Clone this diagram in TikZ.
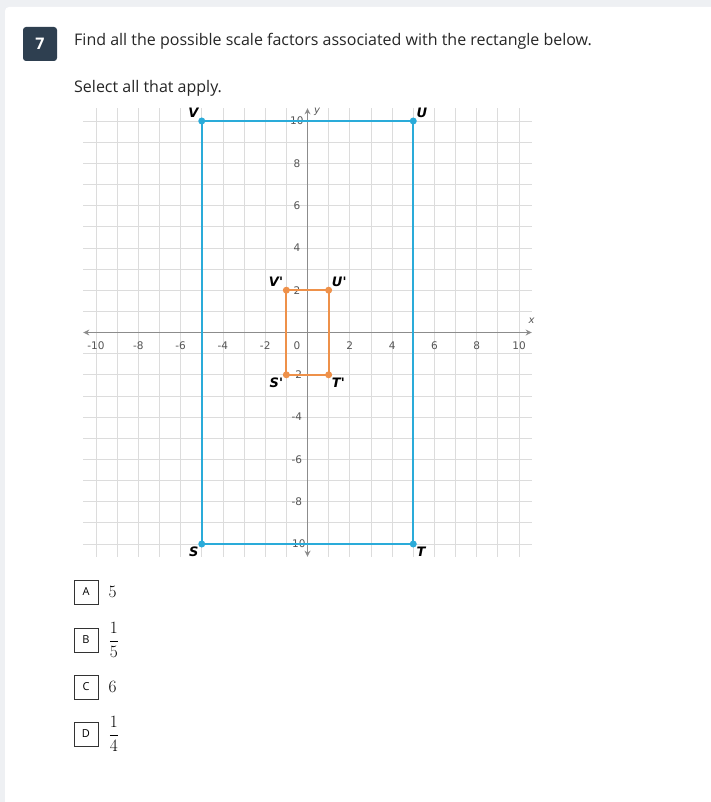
\documentclass[tikz,border=0pt]{standalone}
\usepackage{fontspec}
\usepackage{amsmath}
\setmainfont{Open Sans}
\newfontfamily\axisfont{DejaVu Sans}
\usetikzlibrary{positioning,arrows.meta}
\definecolor{pagegray}{HTML}{EEF0F3}
\definecolor{badgeblue}{HTML}{2E3F50}
\definecolor{bigblue}{HTML}{2AABD9}
\definecolor{smallorange}{HTML}{EE914A}
\definecolor{gridgray}{HTML}{DCDCDC}
\definecolor{axisgray}{HTML}{8C8C8C}
\definecolor{ticktext}{HTML}{555555}

\begin{document}
\begin{tikzpicture}[x=1pt, y=-1pt,
    badge/.style={rounded corners=3pt, fill=badgeblue, text=white, minimum size=34pt, inner sep=0pt, font=\fontsize{16}{16}\selectfont\bfseries},
    prompt/.style={anchor=base west, inner sep=0pt, text=black!85, font=\fontsize{16}{19}\selectfont},
    gridline/.style={gridgray, line width=0.8pt},
    axisline/.style={axisgray, line width=1.4pt, {Stealth[length=6pt,width=6pt]}-{Stealth[length=6pt,width=6pt]}},
    ticklabel/.style={text=ticktext, inner sep=0pt, font=\axisfont\fontsize{10.5}{10.5}\selectfont},
    bigdot/.style={circle, fill=bigblue, minimum size=7pt, inner sep=0pt},
    smalldot/.style={circle, fill=smallorange, minimum size=7pt, inner sep=0pt},
    bigside/.style={bigblue, line width=2pt},
    smallside/.style={smallorange, line width=2pt},
    vertex/.style={font=\axisfont\fontsize{13}{13}\selectfont\bfseries\itshape, text=black, inner sep=0.5pt},
    choicebox/.style={draw=black!80, line width=0.8pt, minimum size=24pt, inner sep=0pt, font=\fontsize{11}{11}\selectfont},
    choice/.style={anchor=west, inner sep=0pt, font=\fontsize{19}{21}\selectfont}
]
\useasboundingbox (0,0) rectangle (711,802);
\clip (0,0) rectangle (711,802);
\fill[pagegray] (0,0) rectangle (711,802);
\fill[white, rounded corners=4pt] (5,7) rectangle (730,830);

% question header
\node[badge] (num) at (40,44) {7};
\node[prompt] (question) at (74,46) {Find all the possible scale factors associated with the rectangle below.};
\node[prompt] (hint) at (74,93) {Select all that apply.};

% coordinate plane
\begin{scope}[shift={(307.5,332.5)}, x=21.15pt, y=21.15pt]
\draw[gridline, step=1] (-10.6,-10.6) grid (10.6,10.6);
\coordinate (xl) at (-10.6,0);
\coordinate (xr) at (10.6,0);
\coordinate (yb) at (0,-10.6);
\coordinate (yt) at (0,10.6);
\draw[axisline] (xl) -- (xr);
\draw[axisline] (yb) -- (yt);
\node[ticklabel, font=\axisfont\itshape\fontsize{10}{10}\selectfont] (xname) at (10.6,0.55) {x};
\node[ticklabel, font=\axisfont\itshape\fontsize{10}{10}\selectfont] (yname) at (0.45,10.45) {y};
\foreach \t in {-10,-8,-6,-4,-2,2,4,6,8,10}{
  \node[ticklabel] (xt\t) at (\t,-0.6) {\t};
  \node[ticklabel] (yt\t) at (-0.5,\t) {\t};
}
\node[ticklabel] (zero) at (-0.5,-0.6) {0};

% original rectangle
\draw[bigside] (-5,10) rectangle (5,-10);
\node[bigdot] (V) at (-5,10) {};
\node[bigdot] (U) at (5,10) {};
\node[bigdot] (T) at (5,-10) {};
\node[bigdot] (S) at (-5,-10) {};
\node[vertex, above left=0pt and 0pt of V] (Vname) {V};
\node[vertex, above right=0pt and 0pt of U] (Uname) {U};
\node[vertex, below left=0pt and 0pt of S] (Sname) {S};
\node[vertex, below right=0pt and 0pt of T] (Tname) {T};

% image rectangle
\node[smalldot] (Vp) at (-1,2) {};
\node[smalldot] (Up) at (1,2) {};
\node[smalldot] (Tp) at (1,-2) {};
\node[smalldot] (Sp) at (-1,-2) {};
\draw[smallside] (Vp.center) -- (Up.center) -- (Tp.center) -- (Sp.center) -- cycle;
\node[vertex, above left=0pt and 0pt of Vp] (Vpname) {V'};
\node[vertex, above right=0pt and 0pt of Up] (Upname) {U'};
\node[vertex, below left=0pt and 0pt of Sp] (Spname) {S'};
\node[vertex, below right=0pt and 0pt of Tp] (Tpname) {T'};
\end{scope}

% answer choices
\node[choicebox] (boxA) at (86,592) {A};
\node[choicebox] (boxB) at (86,640) {B};
\node[choicebox] (boxC) at (86,687) {C};
\node[choicebox] (boxD) at (86,734) {D};
\node[choice, right=10pt of boxA] (valA) {$5$};
\node[choice, right=10pt of boxB] (valB) {$\dfrac{1}{5}$};
\node[choice, right=10pt of boxC] (valC) {$6$};
\node[choice, right=10pt of boxD] (valD) {$\dfrac{1}{4}$};
\end{tikzpicture}
\end{document}
